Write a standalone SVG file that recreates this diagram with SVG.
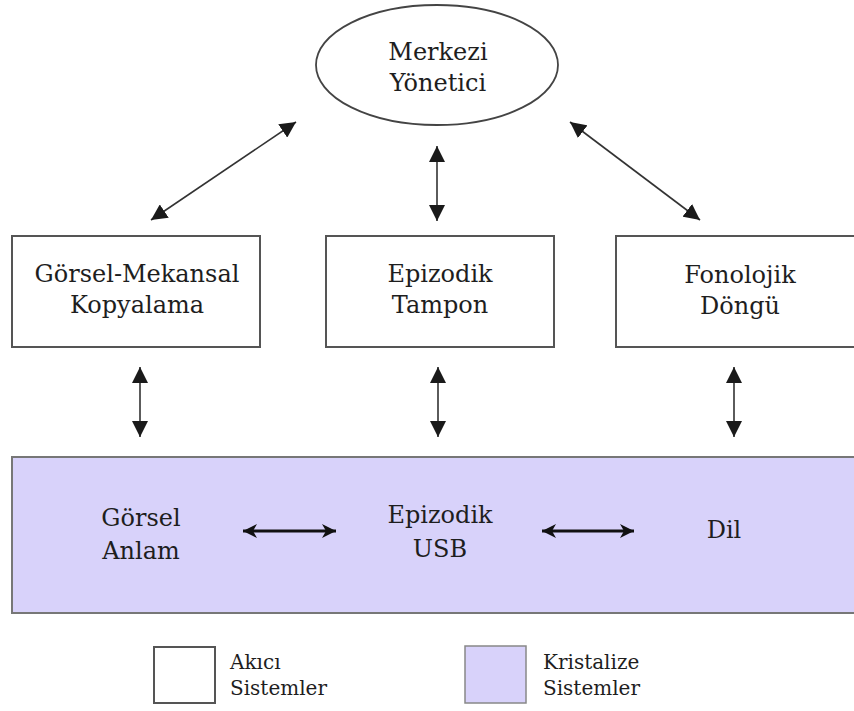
<svg xmlns="http://www.w3.org/2000/svg" width="854" height="711" viewBox="0 0 854 711">
<style>
.t{font-family:'DejaVu Serif',serif;font-size:24px;fill:#1e1e1e;text-anchor:middle}
.lg{font-family:'DejaVu Serif',serif;font-size:20px;fill:#1e1e1e}
.box{fill:#ffffff;stroke:#555555;stroke-width:2}
.band{fill:#d8d2fa;stroke:#777777;stroke-width:2}
.ln{stroke:#333333;stroke-width:1.6;fill:none}
.hl{stroke:#111111;stroke-width:3.2;fill:none}
</style>
<defs>
<marker id="ah" viewBox="0 0 16 16" refX="16" refY="8" markerWidth="16" markerHeight="16" markerUnits="userSpaceOnUse" orient="auto-start-reverse"><path d="M0,0 L16,8 L0,16 Z" fill="#1a1a1a"/></marker>
<marker id="ah2" viewBox="0 0 14 14" refX="14" refY="7" markerWidth="14" markerHeight="14" markerUnits="userSpaceOnUse" orient="auto-start-reverse"><path d="M0,0 L14,7 L0,14 L4,7 Z" fill="#111111"/></marker>
</defs>
<rect width="854" height="711" fill="#ffffff"/>
<g id="band">
<rect class="band" x="12" y="457" width="850" height="156"/>
</g>
<g id="merkezi">
<ellipse cx="437" cy="65" rx="121" ry="60" fill="#ffffff" stroke="#444444" stroke-width="1.8"/>
<text class="t" x="438" y="60">Merkezi</text>
<text class="t" x="438" y="91">Yönetici</text>
</g>
<g id="gorsel-mekansal">
<rect class="box" x="12" y="236" width="248" height="111"/>
<text class="t" x="137" y="282">Görsel-Mekansal</text>
<text class="t" x="137" y="313">Kopyalama</text>
</g>
<g id="epizodik-tampon">
<rect class="box" x="326" y="236" width="228" height="111"/>
<text class="t" x="440" y="282">Epizodik</text>
<text class="t" x="440" y="313">Tampon</text>
</g>
<g id="fonolojik">
<rect class="box" x="616" y="236" width="250" height="111"/>
<text class="t" x="740" y="283">Fonolojik</text>
<text class="t" x="740" y="314">Döngü</text>
</g>
<g id="gorsel-anlam">
<text class="t" x="141" y="526">Görsel</text>
<text class="t" x="141" y="559">Anlam</text>
</g>
<g id="epizodik-usb">
<text class="t" x="440" y="523">Epizodik</text>
<text class="t" x="440" y="557">USB</text>
</g>
<g id="dil">
<text class="t" x="724" y="538">Dil</text>
</g>
<g id="legend">
<rect x="154" y="647" width="61" height="56" fill="#ffffff" stroke="#555555" stroke-width="2"/>
<text class="lg" x="230" y="669">Akıcı</text>
<text class="lg" x="230" y="695">Sistemler</text>
<rect x="465" y="646" width="61" height="57" fill="#d8d2fa" stroke="#888888" stroke-width="1.5"/>
<text class="lg" x="543" y="669">Kristalize</text>
<text class="lg" x="543" y="695">Sistemler</text>
</g>
<g id="connectors">
<line class="ln" x1="151" y1="220" x2="296" y2="122" marker-start="url(#ah)" marker-end="url(#ah)"/>
<line class="ln" x1="437" y1="146" x2="437" y2="221" marker-start="url(#ah)" marker-end="url(#ah)"/>
<line class="ln" x1="570" y1="122" x2="700" y2="220" marker-start="url(#ah)" marker-end="url(#ah)"/>
<line class="ln" x1="140" y1="367" x2="140" y2="437" marker-start="url(#ah)" marker-end="url(#ah)"/>
<line class="ln" x1="438" y1="367" x2="438" y2="437" marker-start="url(#ah)" marker-end="url(#ah)"/>
<line class="ln" x1="734" y1="367" x2="734" y2="437" marker-start="url(#ah)" marker-end="url(#ah)"/>
<line class="hl" x1="243" y1="531" x2="336" y2="531" marker-start="url(#ah2)" marker-end="url(#ah2)"/>
<line class="hl" x1="542" y1="531" x2="634" y2="531" marker-start="url(#ah2)" marker-end="url(#ah2)"/>
</g>
</svg>
